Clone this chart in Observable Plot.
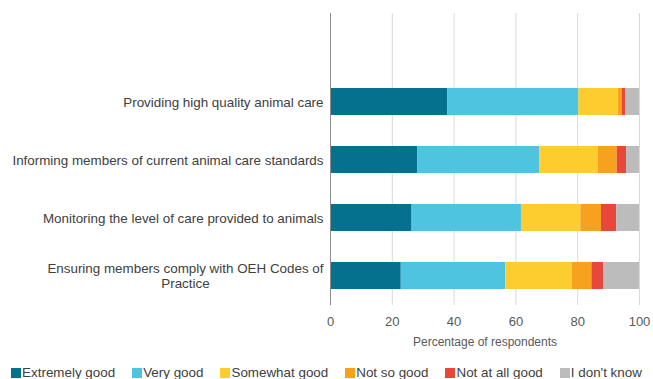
<!DOCTYPE html>
<html>
<head>
<meta charset="utf-8">
<script src="https://cdn.jsdelivr.net/npm/d3@7"></script>
<script src="https://cdn.jsdelivr.net/npm/@observablehq/plot@0.6"></script>
<style>
  html, body { margin: 0; padding: 0; background: #fff; }
  body { width: 653px; height: 379px; overflow: hidden; font-family: "Liberation Sans", Arial, sans-serif; }
  #legend { display: flex; justify-content: center; gap: 17px; margin-top: 10px;
            font-size: 13.4px; line-height: 14px; color: #404040; white-space: nowrap; }
  #legend .item { display: flex; align-items: center; }
  #legend .sw { width: 10px; height: 10px; margin-right: 1px; }
</style>
</head>
<body>
<div id="chart"></div>
<script>
// Survey areas (top to bottom)
const categories = [
  "Providing high quality animal care",
  "Informing members of current animal care standards",
  "Monitoring the level of care provided to animals",
  "Ensuring members comply with OEH Codes of\nPractice"
];

// Rating options, in stacking order
const ratings = ["Extremely good", "Very good", "Somewhat good", "Not so good", "Not at all good", "I don't know"];
const ratingColors = ["#06708f", "#4ec4e0", "#fdcd30", "#f6a21f", "#e8473b", "#bcbcbc"];

// Percentage of respondents per rating, one value per survey area
const extremelyGood = [38.0, 28.3, 26.4, 22.9];
const veryGood      = [42.4, 39.4, 35.4, 33.8];
const somewhatGood  = [12.7, 18.9, 19.2, 21.6];
const notSoGood     = [1.4, 6.2, 6.7, 6.3];
const notAtAllGood  = [1.1, 3.0, 4.9, 3.8];
const dontKnow      = [4.4, 4.2, 7.4, 11.6];

const xTicks = [0, 20, 40, 60, 80, 100];
const xTitle = "Percentage of respondents";

const series = [extremelyGood, veryGood, somewhatGood, notSoGood, notAtAllGood, dontKnow];
const rows = [];
categories.forEach((c, i) => {
  ratings.forEach((r, j) => rows.push({category: c, rating: r, value: series[j][i]}));
});

const plot = Plot.plot({
  width: 653,
  height: 356,
  marginLeft: 330,
  marginRight: 14,
  marginTop: 13,
  marginBottom: 51,
  style: {fontFamily: "Liberation Sans, Arial, sans-serif", background: "#fff"},
  x: {domain: [0, 100]},
  y: {domain: categories, range: [71.4, 305], paddingInner: 0.54, paddingOuter: 0.27},
  color: {domain: ratings, range: ratingColors},
  marks: [
    Plot.gridX(xTicks, {stroke: "#d9d9d9", strokeOpacity: 1}),
    Plot.barX(rows, Plot.stackX({y: "category", x: "value", fill: "rating"})),
    Plot.ruleX([0], {stroke: "#8c8c8c"}),
    Plot.axisX({ticks: xTicks, tickSize: 0, tickPadding: 11, fontSize: 13, color: "#595959", label: null}),
    Plot.axisY({tickSize: 0, tickPadding: 7, fontSize: 13.4, color: "#404040", label: null,
                lineAnchor: "middle", lineHeight: 1.1}),
    Plot.text([xTitle], {frameAnchor: "bottom", dy: 40, fontSize: 12, fill: "#595959"})
  ]
});
document.getElementById("chart").appendChild(plot);

// Centre the lines of wrapped category labels on each other
d3.select(plot).selectAll("text").each(function () {
  const spans = this.querySelectorAll("tspan");
  if (spans.length < 2) return;
  const w = d3.max(Array.from(spans), s => s.getComputedTextLength());
  this.setAttribute("text-anchor", "middle");
  spans.forEach(s => s.setAttribute("x", -w / 2));
});

// Legend below the chart
const color = plot.scale("color");
const legend = d3.select("body").append("div").attr("id", "legend");
color.domain.forEach((d, i) => {
  const item = legend.append("div").attr("class", "item");
  item.append("span").attr("class", "sw").style("background", color.range[i]);
  item.append("span").text(d);
});
</script>
</body>
</html>
